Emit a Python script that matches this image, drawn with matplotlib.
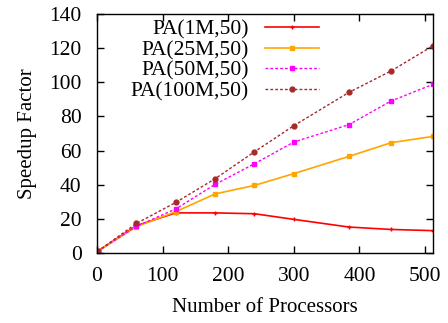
import matplotlib
matplotlib.use('Agg')
import matplotlib.pyplot as plt

# processor counts and speedup factors
procs = [1, 60, 120, 180, 240, 300, 384, 448, 512]
pa_1m = [1, 16, 23.5, 23.5, 23, 19.7, 15.2, 13.8, 13.1]
pa_25m = [1, 15.4, 24.2, 34.6, 39.6, 46.5, 56.6, 64.6, 68.3]
pa_50m = [1, 15.6, 25.8, 40.2, 52.3, 65.0, 75.2, 89.0, 98.8]
pa_100m = [1, 17.3, 29.6, 43.5, 59.3, 74.6, 94.1, 106.6, 121.4]

plt.rcParams['font.family'] = ['Liberation Serif', 'DejaVu Serif']
plt.rcParams['font.size'] = 15.5

fig = plt.figure(figsize=(4.48, 3.23), dpi=100)
ax = fig.add_axes([0.2165, 0.2167, 0.75, 0.74])

ax.plot(procs, pa_1m, '-', color='red', marker='+', ms=3, lw=1.2, label='PA(1M,50)')
ax.plot(procs, pa_25m, '-', color='orange', marker='s', ms=2.5, lw=1.2, label='PA(25M,50)')
ax.plot(procs, pa_50m, '--', color='magenta', marker='s', ms=3.5, lw=1, dashes=(2, 1.5),
        label='PA(50M,50)')
ax.plot(procs, pa_100m, '--', color='#a52a2a', marker='o', ms=3.5, lw=1, dashes=(2, 1.5),
        label='PA(100M,50)')

ax.set_xlim(0, 512)
ax.set_ylim(0, 140)
ax.set_xticks([0, 100, 200, 300, 400, 500])
ax.set_yticks(range(0, 141, 20))
ax.tick_params(axis='x', direction='in', top=True, length=5, width=1, pad=10)
ax.tick_params(axis='y', direction='in', right=True, length=5, width=1, pad=11)
for s in ax.spines.values():
    s.set_linewidth(1)

ax.set_xlabel('Number of Processors', fontsize=15, labelpad=9)
ax.set_ylabel('Speedup Factor', fontsize=15, labelpad=9)

ax.legend(loc='upper left', bbox_to_anchor=(0.055, 1.04), frameon=False, markerfirst=False,
          handlelength=2.5, handletextpad=0.75, labelspacing=0.02, borderaxespad=0.3)

fig.savefig('out.png')
